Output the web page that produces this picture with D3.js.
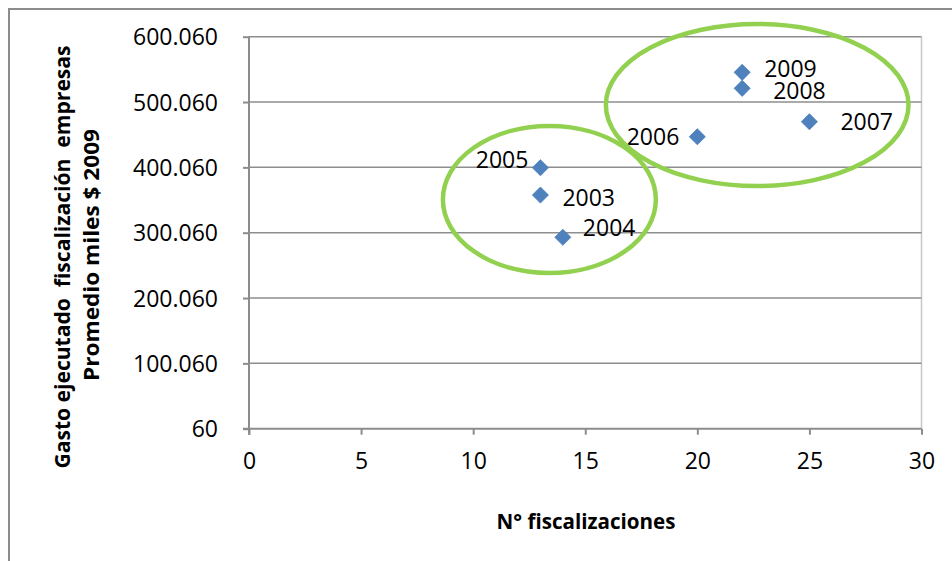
<!DOCTYPE html>
<html>
<head>
<meta charset="utf-8">
<script src="https://cdn.jsdelivr.net/npm/d3@7"></script>
<style>
  html, body { margin: 0; padding: 0; background: #fff; }
  svg { display: block; }
  text { font-family: "Open Sans", "Liberation Sans", sans-serif; fill: #000; }
</style>
</head>
<body>
<svg id="chart" width="952" height="561"></svg>
<script>
// Expenditure vs. number of inspections, by year
const years = ["2003", "2004", "2005", "2006", "2007", "2008", "2009"];
const fiscalizaciones = [13, 14, 13, 20, 25, 22, 22];
const gasto = [357700, 293000, 399500, 446900, 469900, 521000, 545500];

const xTicks = [0, 5, 10, 15, 20, 25, 30];
const yTicks = [60, 100060, 200060, 300060, 400060, 500060, 600060];

// Label placement around each marker: [dx, dy, anchor]
const labelPlacement = [
  [22, 3, "start"],
  [20, -10, "start"],
  [-12, -8, "end"],
  [-18, 0, "end"],
  [31, 0, "start"],
  [31, 2, "start"],
  [22, -4, "start"]
];

// Highlight ellipses in data units: [cx, cy, rx, ry]
const groups = [
  [13.4, 350900, 4.75, 112500],
  [22.67, 495500, 6.75, 124000]
];

const svg = d3.select("#chart");
const W = 952, H = 561;

const x = d3.scaleLinear().domain([0, 30]).range([249, 921.5]);
const y = d3.scaleLinear().domain([60, 600060]).range([428.7, 36.7]);

const loc = d3.formatLocale({ decimal: ",", thousands: ".", grouping: [3], currency: ["$", ""] });
const fmt = loc.format(",");

// Chart frame
svg.append("path")
  .attr("d", `M9,${H} V9 H${W}`)
  .attr("fill", "none")
  .attr("stroke", "#8c8c8c")
  .attr("stroke-width", 2);

// Plot area right border
svg.append("line")
  .attr("x1", x(30)).attr("x2", x(30))
  .attr("y1", y(600060)).attr("y2", y(60))
  .attr("stroke", "#c8c8c8").attr("stroke-width", 1.5);

// Horizontal gridlines
svg.append("g")
  .selectAll("line")
  .data(yTicks.slice(1))
  .join("line")
  .attr("x1", x(0)).attr("x2", x(30))
  .attr("y1", d => y(d)).attr("y2", d => y(d))
  .attr("stroke", "#8e8e8e").attr("stroke-width", 1.5);

// Y axis
const yAxis = svg.append("g")
  .attr("transform", `translate(${x(0)},0)`)
  .call(d3.axisLeft(y).tickValues(yTicks).tickFormat(fmt).tickSize(6).tickPadding(25));
yAxis.select(".domain").attr("stroke", "#8c8c8c").attr("stroke-width", 2)
  .attr("d", `M0,${y(600060)} V${y(60) + 6}`);
yAxis.selectAll(".tick line").attr("stroke", "#8c8c8c").attr("stroke-width", 2);
yAxis.selectAll(".tick text")
  .attr("font-size", 23)
  .attr("font-family", "'Open Sans', sans-serif")
  .attr("fill", "#000")
  .attr("dy", "0.36em");

// X axis
const xAxis = svg.append("g")
  .attr("transform", `translate(0,${y(60)})`)
  .call(d3.axisBottom(x).tickValues(xTicks).tickFormat(d3.format("d")).tickSize(6).tickPadding(18));
xAxis.select(".domain").attr("stroke", "#8c8c8c").attr("stroke-width", 2)
  .attr("d", `M${x(0) - 6},0 H${x(30)}`);
xAxis.selectAll(".tick line").attr("stroke", "#8c8c8c").attr("stroke-width", 2);
xAxis.selectAll(".tick text")
  .attr("font-size", 23)
  .attr("font-family", "'Open Sans', sans-serif")
  .attr("fill", "#000");

// Axis titles
svg.append("text")
  .attr("x", 586).attr("y", 529)
  .attr("text-anchor", "middle")
  .attr("font-size", 22).attr("font-weight", "bold")
  .attr("textLength", 179).attr("lengthAdjust", "spacingAndGlyphs")
  .text("N° fiscalizaciones");

const yTitle = svg.append("g").attr("transform", "translate(0,257) rotate(-90)");
yTitle.append("text")
  .attr("x", 0).attr("y", 70)
  .attr("text-anchor", "middle")
  .attr("font-size", 22).attr("font-weight", "bold")
  .attr("textLength", 423).attr("lengthAdjust", "spacingAndGlyphs")
  .style("white-space", "pre")
  .text("Gasto ejecutado  fiscalización  empresas");
yTitle.append("text")
  .attr("x", 2).attr("y", 99)
  .attr("text-anchor", "middle")
  .attr("font-size", 22).attr("font-weight", "bold")
  .attr("textLength", 252).attr("lengthAdjust", "spacingAndGlyphs")
  .text("Promedio miles $ 2009");

// Points (diamond markers)
const pts = years.map((yr, i) => ({ yr, fx: fiscalizaciones[i], g: gasto[i], lp: labelPlacement[i] }));
const diamond = d3.symbol().type(d3.symbolDiamond2).size(165);

svg.append("g")
  .selectAll("path")
  .data(pts)
  .join("path")
  .attr("d", diamond)
  .attr("transform", d => `translate(${x(d.fx)},${y(d.g)})`)
  .attr("fill", "#4f81bd")
  .attr("stroke", "#4a7ebb")
  .attr("stroke-width", 0.8);

// Year labels
svg.append("g")
  .selectAll("text")
  .data(pts)
  .join("text")
  .attr("x", d => x(d.fx) + d.lp[0])
  .attr("y", d => y(d.g) + d.lp[1])
  .attr("dy", "0.36em")
  .attr("text-anchor", d => d.lp[2])
  .attr("font-size", 23)
  .text(d => d.yr);

// Highlight ellipses
svg.append("g")
  .selectAll("ellipse")
  .data(groups)
  .join("ellipse")
  .attr("cx", d => x(d[0]))
  .attr("cy", d => y(d[1]))
  .attr("rx", d => x(d[0] + d[2]) - x(d[0]))
  .attr("ry", d => y(d[1] - d[3]) - y(d[1]))
  .attr("fill", "none")
  .attr("stroke", "#92d050")
  .attr("stroke-width", 4.5);
</script>
</body>
</html>
